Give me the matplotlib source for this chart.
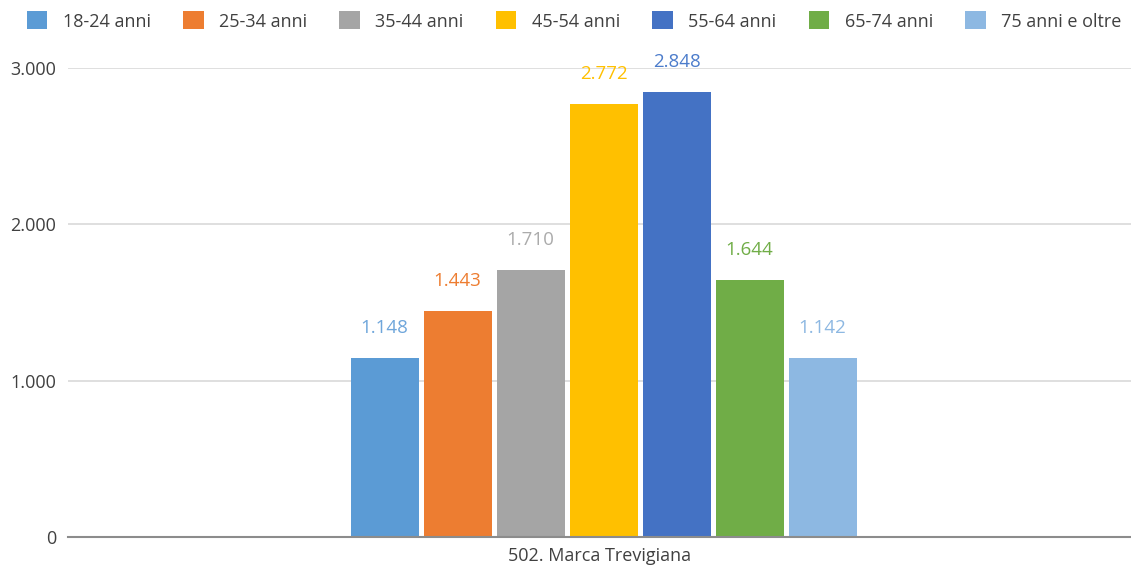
import matplotlib
matplotlib.use("Agg")
import matplotlib.pyplot as plt
import numpy as np
from matplotlib.ticker import FuncFormatter

# Data
category = "502. Marca Trevigiana"
series_labels = ["18-24 anni", "25-34 anni", "35-44 anni", "45-54 anni",
                 "55-64 anni", "65-74 anni", "75 anni e oltre"]
values = [1148, 1443, 1710, 2772, 2848, 1644, 1142]
bar_colors = ["#5B9BD5", "#ED7D31", "#A5A5A5", "#FFC000",
              "#4472C4", "#70AD47", "#8DB8E2"]
label_colors = ["#6FA6DB", "#ED7D31", "#ABABAB", "#FFC000",
                "#4C7CCB", "#70AD47", "#8DB8E2"]
y_ticks = [0, 1000, 2000, 3000]

plt.rcParams['font.family'] = ['Open Sans', 'DejaVu Sans']

W, H = 1131, 571
fig = plt.figure(figsize=(W / 100, H / 100), dpi=100)
ax = fig.add_axes([68 / W, 1 - 537 / H, (W - 68) / W, 469 / H])

n = len(values)
pitch = 73 / (W - 68)
width = 68 / (W - 68)
offsets = (np.arange(n) - (n - 1) / 2) * pitch + 4 / (W - 68)

def fmt(v):
    return f"{int(v):,}".replace(",", ".")

for i, (v, c, lc, lab) in enumerate(zip(values, bar_colors, label_colors, series_labels)):
    ax.bar(offsets[i], v, width=width, color=c, label=lab, zorder=3)
    ax.text(offsets[i], v + 160, fmt(v), ha="center", va="baseline",
            fontsize=13.5, color=lc, clip_on=False, zorder=4)

ax.set_xlim(-0.5, 0.5)
ax.set_ylim(0, 3000)
ax.set_yticks(y_ticks)
ax.yaxis.set_major_formatter(FuncFormatter(lambda v, p: fmt(v)))
ax.set_xticks([0.0])
ax.set_xticklabels([category])
ax.grid(axis="y", color="#D9D9D9", linewidth=1.2, zorder=0)
ax.set_axisbelow(True)
for s in ["top", "right", "left"]:
    ax.spines[s].set_visible(False)
ax.spines["bottom"].set_color("#8C8C8C")
ax.spines["bottom"].set_linewidth(1.5)
ax.spines["bottom"].set_zorder(5)
ax.tick_params(axis="y", length=0, pad=8.5, labelsize=13, labelcolor="#404040")
ax.tick_params(axis="x", length=0, pad=7, labelsize=13, labelcolor="#404040")

handles, labels = ax.get_legend_handles_labels()
fig.legend(handles, labels, loc="center", bbox_to_anchor=(574 / W, 1 - 21 / H),
           ncol=n, frameon=False, fontsize=13, handlelength=1.15,
           handleheight=1.15, handletextpad=0.85, columnspacing=1.78,
           labelcolor="#404040", borderpad=0, borderaxespad=0)

fig.savefig("out.png", dpi=100, facecolor="white")
